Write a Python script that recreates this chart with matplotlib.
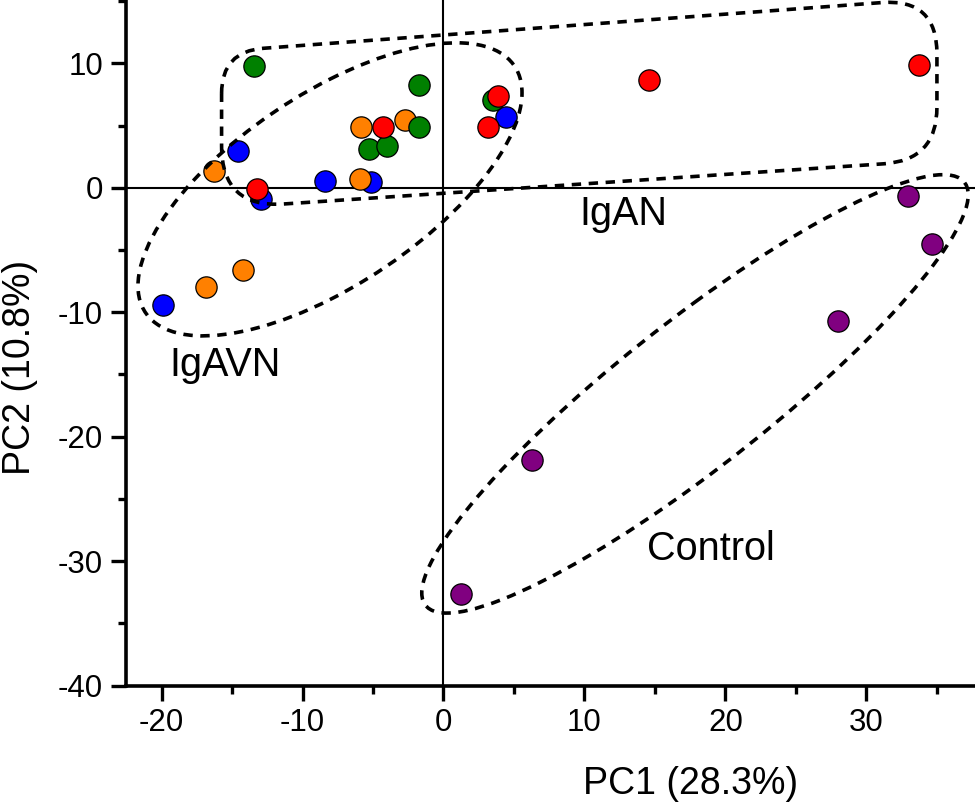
import numpy as np
import matplotlib
matplotlib.use('Agg')
import matplotlib.pyplot as plt
from matplotlib.path import Path
from matplotlib.patches import PathPatch
from matplotlib.transforms import Affine2D
from matplotlib.ticker import MultipleLocator

# scoruri PCA, cate o culoare pe grup
blue_x = [4.41, -14.55, -12.94, -8.38, -5.16, -19.87]
blue_y = [5.68, 3.00, -0.88, 0.56, 0.51, -9.41]

orange_x = [-5.85, -2.73, -16.26, -5.92, -16.84, -14.20]
orange_y = [4.93, 5.47, 1.39, 0.70, -7.98, -6.59]

green_x = [-13.42, -1.72, 3.53, -1.72, -5.28, -4.03]
green_y = [9.83, 8.28, 7.07, 4.88, 3.11, 3.40]

red_x = [3.87, 3.16, -4.29, -13.21, 14.57, 33.70]
red_y = [7.42, 4.93, 4.93, -0.08, 8.68, 9.89]

purple_x = [32.92, 34.62, 27.96, 6.26, 1.24]
purple_y = [-0.62, -4.53, -10.69, -21.86, -32.66]

# contururi (elipse: centru + semiaxe conjugate, IgAN: colturi)
igavn_center = (-8.05, -0.12)
igavn_u = (13.62, 7.76)
igavn_v = (0.0, -8.86)

control_center = (17.84, -16.56)
control_u = (19.38, 16.0)
control_v = (0.0, -7.38)

igan_corners = [(-15.74, 10.97), (35.0, 15.22), (35.0, 2.22), (-15.74, -1.63)]
igan_radii = [42, 55, 53, 62]  # pixeli

labels = ['IgAVN', 'IgAN', 'Control']
label_x = [-19.43, 9.61, 14.45]
label_y = [-15.11, -2.97, -29.9]

plt.rcParams['font.family'] = ['Liberation Sans', 'DejaVu Sans']
plt.rcParams['axes.unicode_minus'] = False

fig = plt.figure(figsize=(9.75, 8.07), dpi=100)
ax = fig.add_axes([126 / 975, 1 - 685.5 / 807, 849 / 975, 685.5 / 807])
ax.set_xlim(-22.52, 37.70)
ax.set_ylim(-40, 15.1)

dash = (0, (2.6, 2.1))
dash_lw = 2.6


def ellipse_patch(center, u, v):
    # cercul unitate transformat afin -> elipsa in coordonate de date
    m = Affine2D().from_values(u[0], u[1], v[0], v[1], center[0], center[1])
    return PathPatch(Path.unit_circle(), transform=m + ax.transData, fill=False,
                     edgecolor='black', lw=dash_lw, linestyle=dash, zorder=4, clip_on=False)


def rounded_patch(corners, radii):
    # poligon cu colturi rotunjite (calculat in pixeli, convertit inapoi in date)
    pts = ax.transData.transform(corners)
    n = len(pts)
    verts, codes = [], []
    for i in range(n):
        c = pts[i]
        p0 = pts[i - 1]
        p1 = pts[(i + 1) % n]
        a = c + (p0 - c) / np.linalg.norm(p0 - c) * radii[i]
        b = c + (p1 - c) / np.linalg.norm(p1 - c) * radii[i]
        verts += [a, c, b]
        codes += [Path.LINETO if i else Path.MOVETO, Path.CURVE3, Path.CURVE3]
    verts.append(verts[0])
    codes.append(Path.LINETO)
    verts = ax.transData.inverted().transform(np.array(verts))
    return PathPatch(Path(verts, codes), fill=False, edgecolor='black', lw=dash_lw,
                     linestyle=dash, zorder=4, clip_on=False)


# axele prin origine
ax.axhline(0, color='black', lw=1.5, zorder=1)
ax.axvline(0, color='black', lw=1.5, zorder=1)

groups = [
    (blue_x, blue_y, '#0000FF'),
    (orange_x, orange_y, '#FF8000'),
    (green_x, green_y, '#008000'),
    (red_x, red_y, '#FF0000'),
    (purple_x, purple_y, '#800080'),
]
for gx, gy, col in groups:
    ax.scatter(gx, gy, s=235, color=col, edgecolors='black', linewidths=0.9,
               zorder=3, clip_on=False)

ax.add_patch(ellipse_patch(igavn_center, igavn_u, igavn_v))
ax.add_patch(ellipse_patch(control_center, control_u, control_v))
ax.add_patch(rounded_patch(igan_corners, igan_radii))

for txt, tx, ty in zip(labels, label_x, label_y):
    ax.text(tx, ty, txt, fontsize=28.5, ha='left', va='baseline', zorder=5)

# stil axe
for side in ['top', 'right']:
    ax.spines[side].set_visible(False)
for side in ['left', 'bottom']:
    ax.spines[side].set_linewidth(2.6)

ax.xaxis.set_major_locator(MultipleLocator(10))
ax.xaxis.set_minor_locator(MultipleLocator(5))
ax.yaxis.set_major_locator(MultipleLocator(10))
ax.yaxis.set_minor_locator(MultipleLocator(5))
ax.tick_params(which='major', direction='out', length=10.5, width=2.4, labelsize=22.5, pad=6)
ax.tick_params(which='minor', direction='out', length=5.5, width=2.4)

ax.set_xlabel('PC1 (28.3%)', fontsize=27)
ax.set_ylabel('PC2 (10.8%)', fontsize=27)
ax.xaxis.set_label_coords((691 - 126) / 849, -0.118)
ax.yaxis.set_label_coords(-0.104, (685.5 - 367.5) / 685.5)

fig.savefig('out.png', dpi=100)
